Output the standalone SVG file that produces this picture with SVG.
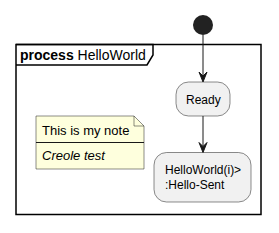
<svg xmlns="http://www.w3.org/2000/svg" width="279" height="233" viewBox="0 0 279 233">
<style>
text{font-family:"Liberation Sans",Arial,sans-serif;fill:#000}
.act{fill:#F1F1F1;stroke:#181818;stroke-width:0.5}
.lbl{font-size:12px}
.conn{stroke:#181818;stroke-width:1;fill:none}
.head{fill:#181818;stroke:#181818;stroke-width:1}
</style>
<rect width="279" height="233" fill="#FFFFFF"/>
<g id="frame">
<rect x="16" y="44.5" width="245" height="170" fill="none" stroke="#000" stroke-width="1.5"/>
<path d="M16,44.5 L153,44.5 L153,55 L147,65 L16,65" fill="none" stroke="#000" stroke-width="1.5"/>
<text x="20" y="60" font-size="14px"><tspan font-weight="bold">process</tspan> HelloWorld</text>
</g>
<g id="start">
<circle cx="203" cy="25" r="10" fill="#222222"/>
</g>
<g id="ready">
<rect class="act" x="176" y="82" width="54" height="34" rx="12.5" ry="12.5"/>
<text class="lbl" x="186" y="103.5">Ready</text>
</g>
<g id="helloworld">
<rect class="act" x="154" y="152.5" width="97" height="49.5" rx="12.5" ry="12.5"/>
<text class="lbl" x="165" y="174">HelloWorld(i)&gt;</text>
<text class="lbl" x="165" y="189">:Hello-Sent</text>
</g>
<g id="note">
<path d="M36,116 L134,116 L144,126 L144,169 L36,169 Z" fill="#FEFFDD" stroke="#181818" stroke-width="0.5"/>
<path d="M134,116 L134,126 L144,126" fill="none" stroke="#181818" stroke-width="0.5"/>
<line x1="36" y1="142.5" x2="144" y2="142.5" stroke="#181818" stroke-width="1"/>
<text x="42" y="135" font-size="13px">This is my note</text>
<text x="42" y="160" font-size="13px" font-style="italic">Creole test</text>
</g>
<g id="connectors">
<line class="conn" x1="203" y1="35" x2="203" y2="76"/>
<polygon class="head" points="199,72 203,82 207,72 203,76"/>
<line class="conn" x1="203" y1="116" x2="203" y2="146"/>
<polygon class="head" points="199,142.5 203,152.5 207,142.5 203,146.5"/>
</g>
</svg>
